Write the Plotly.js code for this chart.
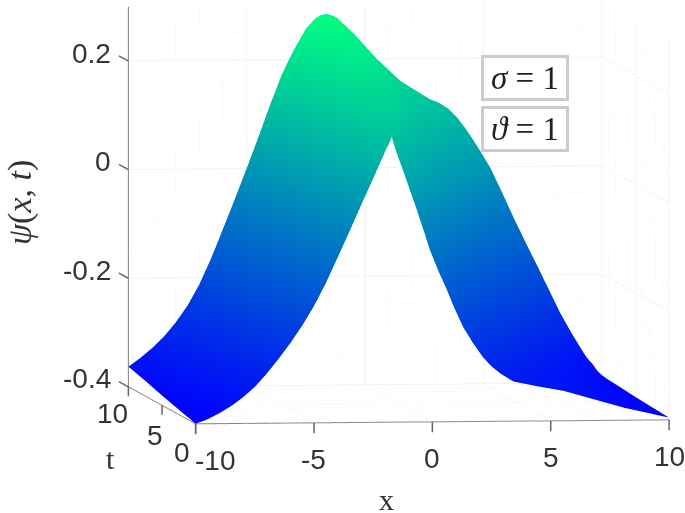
<!DOCTYPE html>
<html><head><meta charset="utf-8">
<script src="https://cdn.plot.ly/plotly-3.0.1.min.js"></script>
<style>html,body{margin:0;padding:0;background:#fff}#c{width:685px;height:513px}</style></head>
<body><div id="c"></div>
<script>
const tValues=[0,2.5,5,7.5,10];
const xTicks=[-10,-5,0,5,10];
const tTicks=[0,5,10];
const zTicks=[-0.4,-0.2,0,0.2];
const xMinor=[-9,-8,-7,-6,-4,-3,-2,-1,1,2,3,4,6,7,8,9];
const tMinor=[1,2,3,4,6,7,8,9];
const zMinor=[-0.35,-0.3,-0.25,-0.15,-0.1,-0.05,0.05,0.1,0.15,0.25,0.3];
const xLeft=[-10,-9.5,-9,-8.5,-8,-7.5,-7,-6.5,-6,-5.5,-5,-4.5,-4,-3.5,-3,-2.5];
const xAt0=[...xLeft,-2.1,-2.0,-1.95,-1.9,-1.85,-1.82,-1.79,-1.75,-1.72,-1.45,-1.25,-0.95,-0.66,-0.38,-0.11,0.25,0.62,0.96,1.3,1.72,2.14,2.5,2.87,3.42,4.4,5.54,8.09,10];
const xAt25=[...xLeft,-2.1,-1.8,-1.55,-1.35,-1.2,-1.05,-0.95,-0.85,-0.71,-0.31,-0.06,0.26,0.56,0.86,1.15,1.51,1.91,2.29,2.67,3.11,3.55,3.94,4.34,4.88,5.65,6.56,8.52,10];
const xAt5=[...xLeft,-2.1,-1.8,-1.5,-1.2,-0.8,-0.4,-0.1,0.15,0.38,0.83,1.13,1.47,1.78,2.09,2.41,2.77,3.2,3.61,4.04,4.5,4.96,5.38,5.81,6.33,6.9,7.57,8.95,10];
const xAt75=[...xLeft,-2.1,-1.8,-1.5,-1.1,-0.6,-0.1,0.4,0.95,1.48,1.96,2.31,2.68,3.0,3.33,3.66,4.03,4.49,4.94,5.4,5.89,6.36,6.82,7.28,7.79,8.15,8.59,9.37,10];
const xAt10=[...xLeft,-2.1,-1.85,-1.63,-1.4,-1.17,-0.45,0.5,1.5,2.74,3.1,3.5,3.89,4.22,4.56,4.92,5.29,5.78,6.26,6.77,7.28,7.77,8.26,8.75,9.24,9.4,9.6,9.8,10];
const psiAt0=[-0.4,-0.392,-0.381,-0.368,-0.352,-0.333,-0.309,-0.282,-0.253,-0.221,-0.185,-0.143,-0.096,-0.048,0.001,0.049,0.088,0.098,0.103,0.107,0.111,0.114,0.117,0.121,0.125,0.088,0.065,0.027,-0.009,-0.046,-0.083,-0.122,-0.158,-0.194,-0.226,-0.256,-0.282,-0.299,-0.312,-0.327,-0.336,-0.345,-0.377,-0.396];
const psiAt25=[-0.391,-0.381,-0.368,-0.353,-0.335,-0.313,-0.285,-0.252,-0.217,-0.179,-0.139,-0.092,-0.041,0.009,0.057,0.102,0.137,0.15,0.155,0.156,0.155,0.152,0.149,0.144,0.133,0.088,0.074,0.043,0.011,-0.022,-0.056,-0.092,-0.131,-0.17,-0.205,-0.239,-0.269,-0.292,-0.312,-0.331,-0.341,-0.35,-0.377,-0.394];
const psiAt5=[-0.382,-0.37,-0.355,-0.338,-0.317,-0.292,-0.26,-0.223,-0.181,-0.138,-0.092,-0.042,0.012,0.064,0.11,0.153,0.18,0.192,0.198,0.2,0.193,0.178,0.165,0.15,0.136,0.1,0.086,0.059,0.032,0.002,-0.029,-0.062,-0.103,-0.145,-0.183,-0.22,-0.255,-0.286,-0.311,-0.336,-0.346,-0.355,-0.377,-0.392];
const psiAt75=[-0.372,-0.358,-0.342,-0.323,-0.3,-0.272,-0.236,-0.193,-0.145,-0.096,-0.046,0.008,0.065,0.119,0.165,0.205,0.228,0.238,0.243,0.24,0.226,0.204,0.18,0.155,0.131,0.113,0.102,0.075,0.052,0.026,-0.002,-0.032,-0.075,-0.119,-0.161,-0.203,-0.241,-0.279,-0.311,-0.34,-0.35,-0.36,-0.377,-0.389];
const psiAt10=[-0.363,-0.347,-0.329,-0.308,-0.282,-0.251,-0.212,-0.164,-0.11,-0.055,0.001,0.059,0.119,0.175,0.219,0.257,0.276,0.282,0.284,0.281,0.276,0.246,0.2,0.159,0.125,0.119,0.108,0.091,0.072,0.05,0.025,-0.002,-0.047,-0.093,-0.139,-0.184,-0.228,-0.272,-0.31,-0.345,-0.355,-0.365,-0.377,-0.387];

const xGrid=[xAt0,xAt25,xAt5,xAt75,xAt10];
const zGrid=[psiAt0,psiAt25,psiAt5,psiAt75,psiAt10];
const tGrid=tValues.map(t=>xAt0.map(()=>t));

// faint dotted minor grid on the back walls and the floor
const mx=[],my=[],mz=[];
function seg(a,b){mx.push(a[0],b[0],null);my.push(a[1],b[1],null);mz.push(a[2],b[2],null);}
zMinor.forEach(v=>{seg([-10,10,v],[10,10,v]);seg([10,0,v],[10,10,v]);});
xMinor.forEach(v=>{seg([v,10,-0.4],[v,10,0.3]);seg([v,0,-0.4],[v,10,-0.4]);});
tMinor.forEach(v=>{seg([10,v,-0.4],[10,v,0.3]);seg([-10,v,-0.4],[10,v,-0.4]);});

const dir=[-0.1231,-0.9924,0.0685];
const d=4;
const ctr={x:-0.219,y:0.0155,z:-0.168};
const axisBase={showbackground:false,gridcolor:'#e9e9e9',gridwidth:1,zeroline:false,showspikes:false,
  showline:true,linecolor:'#808080',linewidth:2,ticks:'',showticklabels:false,title:{text:''}};
const tickFont={family:'Liberation Sans, Arial, sans-serif',size:28,color:'#333'};
const tickMark={text:'',showarrow:true,arrowhead:0,arrowwidth:1.5,arrowcolor:'#666',standoff:0};
const tLabelShift={0:[-4,-29],5:[3,-30],10:[2,-27]};
const sceneLabels=[
  ...xTicks.map(v=>({x:v,y:0,z:-0.4,text:String(v),showarrow:false,xanchor:'center',yanchor:'middle',yshift:-37,xshift:v===-10?19:0,font:tickFont})),
  ...tTicks.map(v=>({x:-10,y:v,z:-0.4,text:String(v),showarrow:false,xanchor:'right',yanchor:'middle',xshift:tLabelShift[v][0],yshift:tLabelShift[v][1],font:tickFont})),
  ...zTicks.map(v=>({x:-10,y:10,z:v,text:String(v),showarrow:false,xanchor:'right',yanchor:'middle',xshift:-15,yshift:8,font:tickFont})),
  ...xTicks.map(v=>Object.assign({x:v,y:0,z:-0.4,ax:0,ay:12},tickMark)),
  ...tTicks.map(v=>Object.assign({x:-10,y:v,z:-0.4,ax:0,ay:11},tickMark)),
  ...zTicks.map(v=>Object.assign({x:-10,y:10,z:v,ax:-11,ay:-6},tickMark))
];
const titleFont=s=>({family:'Liberation Serif, serif',size:s,color:'#333'});
Plotly.newPlot('c',[{
  type:'surface',x:xGrid,y:tGrid,z:zGrid,cmin:-0.4,cmax:0.284,
  colorscale:[[0,'rgb(0,0,255)'],[1,'rgb(0,255,128)']],showscale:false,hoverinfo:'skip',
  lighting:{ambient:1,diffuse:0,specular:0,roughness:1,fresnel:0},
  contours:{x:{show:false},y:{show:false},z:{show:false}}
},{
  type:'scatter3d',mode:'lines',x:mx,y:my,z:mz,connectgaps:false,hoverinfo:'skip',showlegend:false,
  line:{color:'#f5f5f5',width:1,dash:'dot'}
}],{
  width:685,height:513,margin:{l:0,r:0,t:0,b:0},paper_bgcolor:'#fff',showlegend:false,
  scene:{
    domain:{x:[0,1],y:[0,1]},
    aspectmode:'manual',aspectratio:{x:1.86,y:2.13,z:1.485},
    camera:{projection:{type:'orthographic'},eye:{x:ctr.x+dir[0]*d,y:ctr.y+dir[1]*d,z:ctr.z+dir[2]*d},center:ctr,up:{x:0,y:0,z:1}},
    xaxis:Object.assign({},axisBase,{range:[-10,10],tickvals:xTicks}),
    yaxis:Object.assign({},axisBase,{range:[0,10],tickvals:tTicks}),
    zaxis:Object.assign({},axisBase,{range:[-0.4,0.3],tickvals:zTicks}),
    annotations:sceneLabels
  },
  annotations:[
   {xref:'paper',yref:'paper',xanchor:'center',yanchor:'middle',x:525/685,y:1-78/513,text:'<i>σ</i> = 1',showarrow:false,width:80,height:38,bordercolor:'#ccc',borderwidth:3,bgcolor:'#fff',font:{family:'Liberation Serif, serif',size:33,color:'#222'}},
   {xref:'paper',yref:'paper',xanchor:'center',yanchor:'middle',x:525/685,y:1-129/513,text:'<i>ϑ</i> = 1',showarrow:false,width:80,height:38,bordercolor:'#ccc',borderwidth:3,bgcolor:'#fff',font:{family:'Liberation Serif, serif',size:33,color:'#222'}},
   {xref:'paper',yref:'paper',xanchor:'center',yanchor:'middle',x:387/685,y:1-499/513,text:'x',showarrow:false,font:titleFont(30)},
   {xref:'paper',yref:'paper',xanchor:'center',yanchor:'middle',x:110/685,y:1-458/513,text:'t',showarrow:false,font:titleFont(30)},
   {xref:'paper',yref:'paper',xanchor:'center',yanchor:'middle',x:20/685,y:1-203/513,text:'<i>ψ</i>(<i>x</i>, <i>t</i>)',textangle:-90,showarrow:false,font:titleFont(34)}
  ]
},{displayModeBar:false});
</script></body></html>
